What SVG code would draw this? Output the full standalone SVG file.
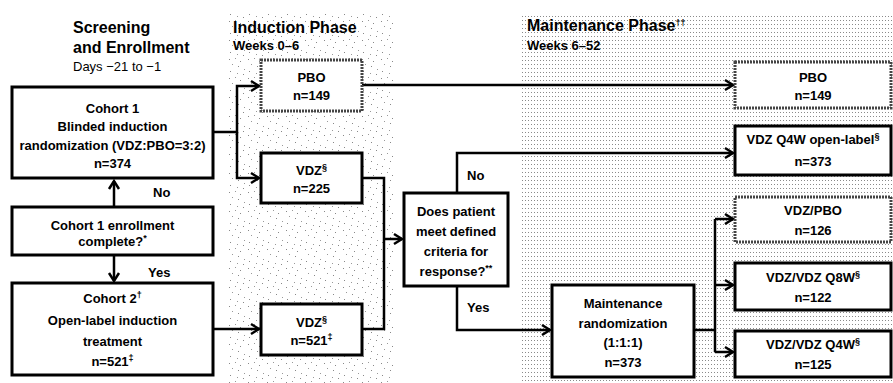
<svg xmlns="http://www.w3.org/2000/svg" width="893" height="383" viewBox="0 0 893 383">
<defs>
<pattern id="stip" width="19" height="19" patternUnits="userSpaceOnUse">
<rect x="1" y="2" width="1" height="1" fill="#888"/><rect x="7" y="1" width="1" height="1" fill="#999"/><rect x="12" y="4" width="1" height="1" fill="#888"/><rect x="4" y="7" width="1" height="1" fill="#999"/><rect x="10" y="9" width="1" height="1" fill="#888"/><rect x="16" y="12" width="1" height="1" fill="#999"/><rect x="2" y="14" width="1" height="1" fill="#888"/><rect x="9" y="16" width="1" height="1" fill="#999"/><rect x="15" y="17" width="1" height="1" fill="#888"/>
</pattern>
<pattern id="grid" width="3" height="4" patternUnits="userSpaceOnUse">
<rect x="0" y="0" width="1" height="1" fill="#8a8a8a"/>
</pattern>
<marker id="arr" markerUnits="userSpaceOnUse" markerWidth="12" markerHeight="12" refX="9" refY="6" orient="auto" overflow="visible">
<path d="M1,1 L9,6 L1,11" fill="none" stroke="#000" stroke-width="2.5"/>
</marker>
</defs>
<style>
.t{font-family:"Liberation Sans",Arial,sans-serif;font-weight:bold;font-size:13px;fill:#000;text-anchor:middle}
.h{font-family:"Liberation Sans",Arial,sans-serif;font-weight:bold;font-size:16px;fill:#000}
.s{font-family:"Liberation Sans",Arial,sans-serif;font-weight:bold;font-size:13px;fill:#000}
.d{font-family:"Liberation Sans",Arial,sans-serif;font-weight:normal;font-size:13px;fill:#000}
.box{fill:#fff;stroke:#000;stroke-width:3}
.gbox{fill:#fff;stroke:#444;stroke-width:3;stroke-dasharray:2 1}
.ln{fill:none;stroke:#000;stroke-width:2.5}
.sup{font-size:9px}
</style>
<rect x="228" y="13" width="165" height="370" fill="url(#stip)"/>
<rect x="521" y="13" width="372" height="370" fill="url(#grid)"/>

<g id="headers">
<text class="h" x="73" y="33">Screening</text>
<text class="h" x="73" y="53">and Enrollment</text>
<text class="d" x="73" y="71">Days −21 to −1</text>
<text class="h" x="233" y="33">Induction Phase</text>
<text class="s" x="233" y="50">Weeks 0–6</text>
<text class="h" x="527" y="31">Maintenance Phase<tspan class="sup" baseline-shift="super">††</tspan></text>
<text class="s" x="527" y="50">Weeks 6–52</text>
</g>

<g id="connectors">
<path class="ln" d="M213,132 H237 V86 H259" marker-end="url(#arr)"/>
<path class="ln" d="M237,132 V178 H259" marker-end="url(#arr)"/>
<path class="ln" d="M114,207 V181" marker-end="url(#arr)"/>
<path class="ln" d="M114,255 V281" marker-end="url(#arr)"/>
<path class="ln" d="M213,329 H259" marker-end="url(#arr)"/>
<path class="ln" d="M362,178 H384 V329 H362"/>
<path class="ln" d="M384,239 H402" marker-end="url(#arr)"/>
<path class="ln" d="M362,85 H733" marker-end="url(#arr)"/>
<path class="ln" d="M457,193 V153 H733" marker-end="url(#arr)"/>
<path class="ln" d="M457,286 V330 H550" marker-end="url(#arr)"/>
<path class="ln" d="M694,330 H715"/>
<path class="ln" d="M715,219 V352"/>
<path class="ln" d="M715,219 H733" marker-end="url(#arr)"/>
<path class="ln" d="M715,285 H733" marker-end="url(#arr)"/>
<path class="ln" d="M715,352 H733" marker-end="url(#arr)"/>
<text class="s" x="153" y="197">No</text>
<text class="s" x="148" y="277">Yes</text>
<text class="s" x="467" y="180">No</text>
<text class="s" x="467" y="312">Yes</text>
</g>

<g id="cohort1">
<rect class="box" x="12" y="87" width="201" height="91"/>
<text class="t" x="112.5" y="113">Cohort 1</text>
<text class="t" x="112.5" y="131">Blinded induction</text>
<text class="t" x="112.5" y="150">randomization (VDZ:PBO=3:2)</text>
<text class="t" x="112.5" y="168">n=374</text>
</g>
<g id="enroll">
<rect class="box" x="12" y="207" width="201" height="48"/>
<text class="t" x="112.5" y="230">Cohort 1 enrollment</text>
<text class="t" x="112.5" y="246">complete?<tspan class="sup" baseline-shift="super">*</tspan></text>
</g>
<g id="cohort2">
<rect class="box" x="12" y="283" width="201" height="92"/>
<text class="t" x="112.5" y="303">Cohort 2<tspan class="sup" baseline-shift="super">†</tspan></text>
<text class="t" x="112.5" y="325">Open-label induction</text>
<text class="t" x="112.5" y="346">treatment</text>
<text class="t" x="112.5" y="366">n=521<tspan class="sup" baseline-shift="super">‡</tspan></text>
</g>
<g id="pbo-ind">
<rect class="gbox" x="261" y="60" width="101" height="51"/>
<text class="t" x="311.5" y="82">PBO</text>
<text class="t" x="311.5" y="100">n=149</text>
</g>
<g id="vdz1">
<rect class="box" x="261" y="153" width="101" height="50"/>
<text class="t" x="311.5" y="175">VDZ<tspan class="sup" baseline-shift="super">§</tspan></text>
<text class="t" x="311.5" y="193">n=225</text>
</g>
<g id="vdz2">
<rect class="box" x="261" y="304" width="101" height="51"/>
<text class="t" x="311.5" y="327">VDZ<tspan class="sup" baseline-shift="super">§</tspan></text>
<text class="t" x="311.5" y="345">n=521<tspan class="sup" baseline-shift="super">‡</tspan></text>
</g>
<g id="decision">
<rect class="box" x="404" y="193" width="104" height="93"/>
<text class="t" x="456" y="216">Does patient</text>
<text class="t" x="456" y="236">meet defined</text>
<text class="t" x="456" y="256">criteria for</text>
<text class="t" x="456" y="276">response?<tspan class="sup" baseline-shift="super">**</tspan></text>
</g>
<g id="maint-rand">
<rect class="box" x="552" y="285" width="142" height="92"/>
<text class="t" x="623" y="308">Maintenance</text>
<text class="t" x="623" y="328">randomization</text>
<text class="t" x="623" y="347">(1:1:1)</text>
<text class="t" x="623" y="367">n=373</text>
</g>
<g id="pbo-maint">
<rect class="gbox" x="735" y="62" width="156" height="46"/>
<text class="t" x="813" y="82">PBO</text>
<text class="t" x="813" y="100">n=149</text>
</g>
<g id="vdz-ol">
<rect class="box" x="735" y="126" width="156" height="49"/>
<text class="t" x="813" y="144">VDZ Q4W open-label<tspan class="sup" baseline-shift="super">§</tspan></text>
<text class="t" x="813" y="166">n=373</text>
</g>
<g id="vdz-pbo">
<rect class="gbox" x="735" y="197" width="156" height="45"/>
<text class="t" x="813" y="215">VDZ/PBO</text>
<text class="t" x="813" y="235">n=126</text>
</g>
<g id="vdz-q8w">
<rect class="box" x="735" y="263" width="156" height="47"/>
<text class="t" x="813" y="282">VDZ/VDZ Q8W<tspan class="sup" baseline-shift="super">§</tspan></text>
<text class="t" x="813" y="302">n=122</text>
</g>
<g id="vdz-q4w">
<rect class="box" x="735" y="331" width="156" height="46"/>
<text class="t" x="813" y="349">VDZ/VDZ Q4W<tspan class="sup" baseline-shift="super">§</tspan></text>
<text class="t" x="813" y="369">n=125</text>
</g>
</svg>
